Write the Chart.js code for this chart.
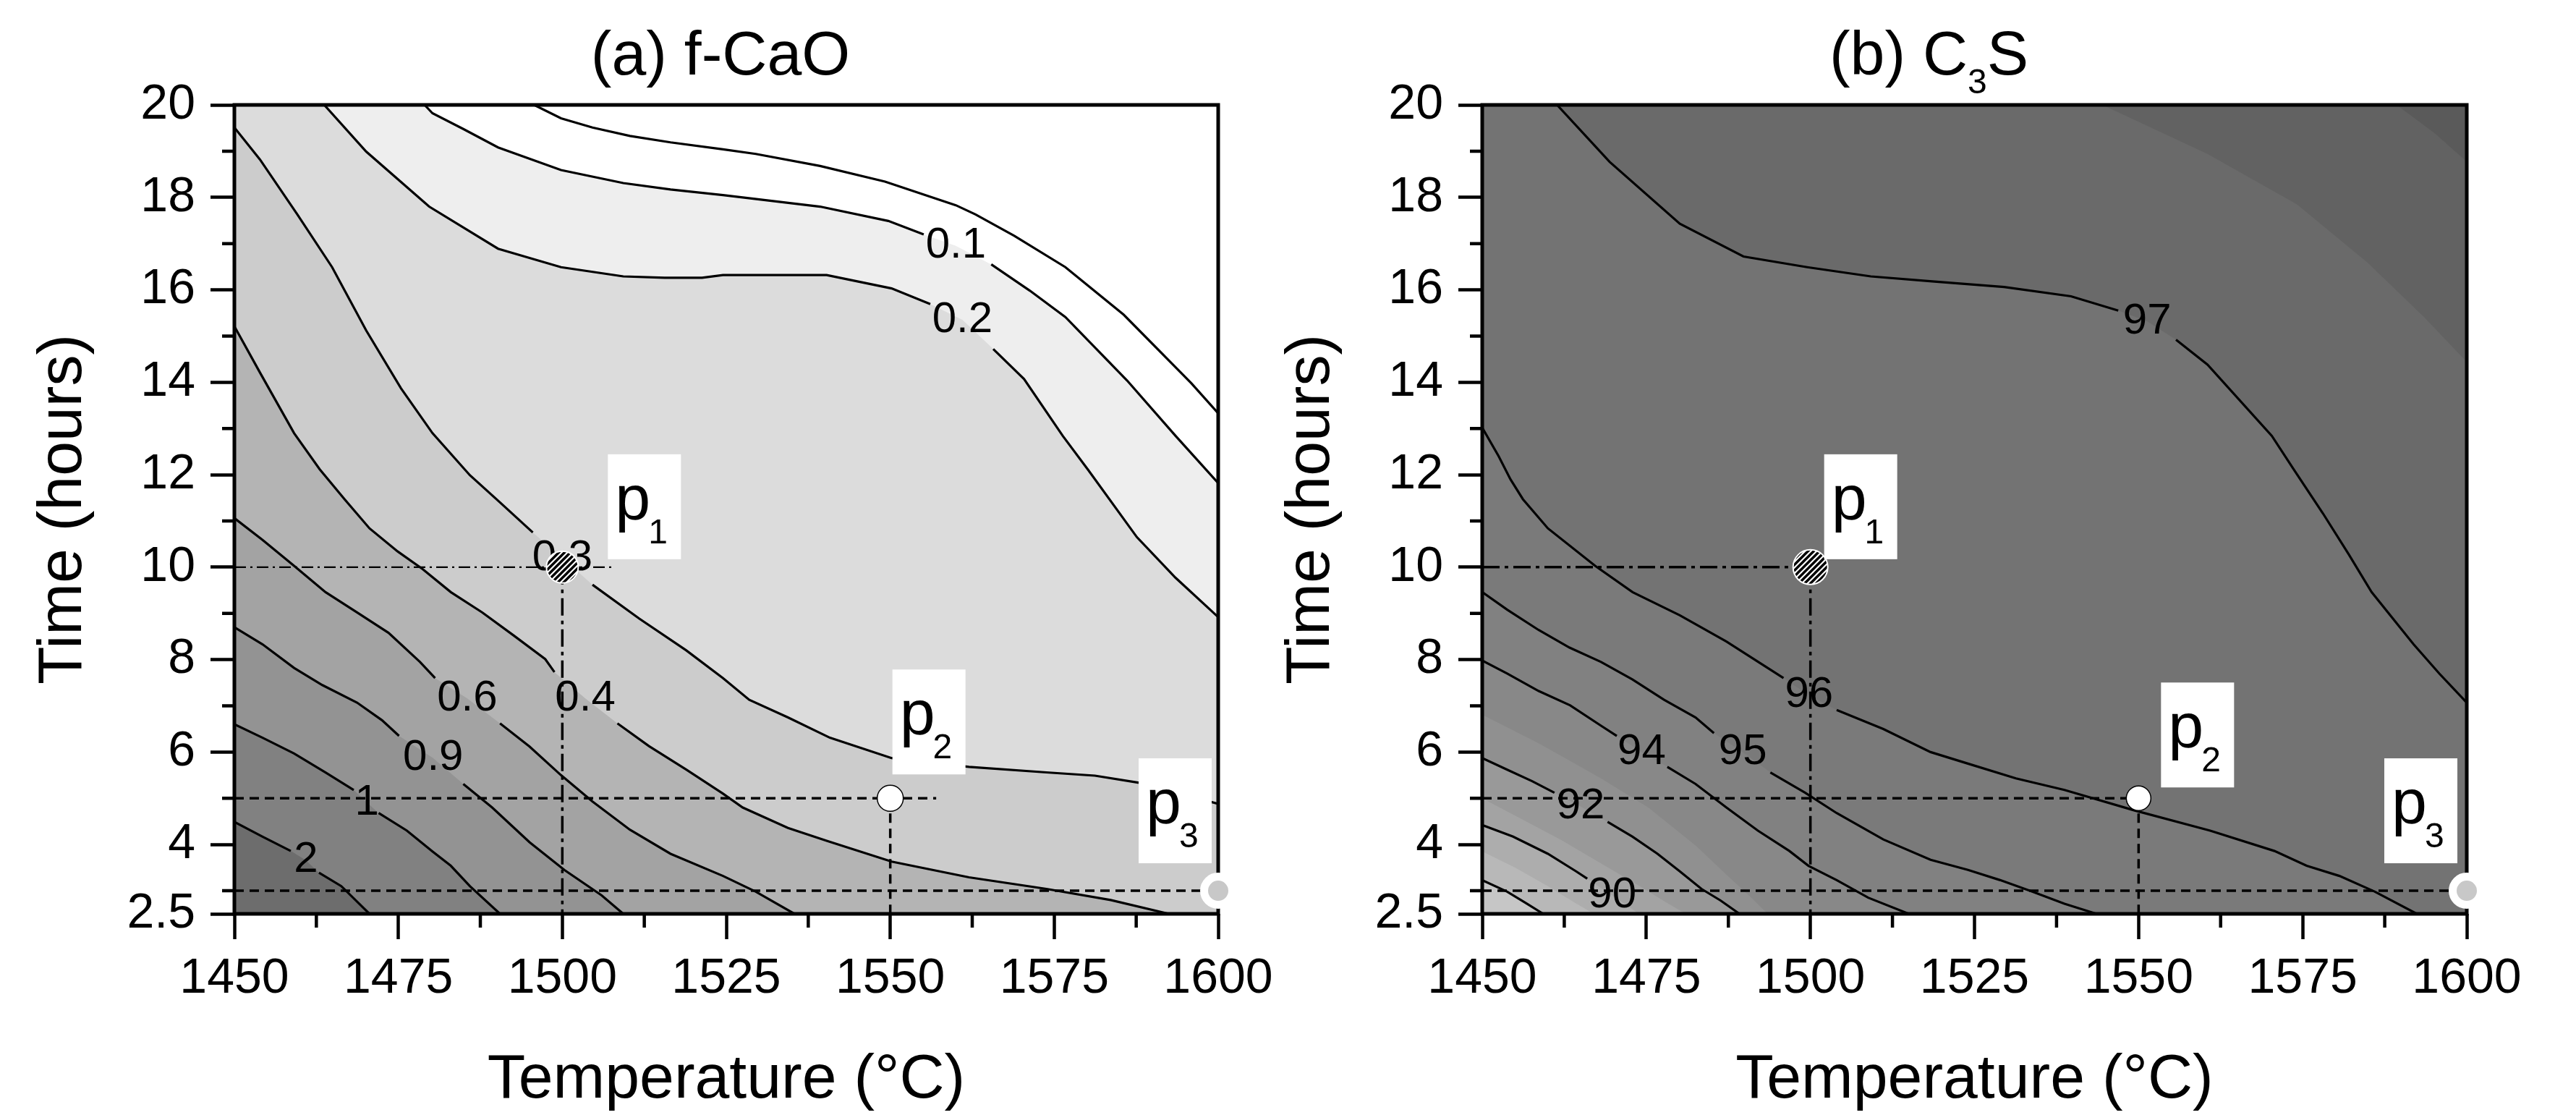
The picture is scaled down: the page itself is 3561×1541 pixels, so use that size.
<!DOCTYPE html>
<html>
<head>
<meta charset="utf-8">
<script src="https://cdn.jsdelivr.net/npm/chart.js@4.4.1/dist/chart.umd.min.js"></script>
<style>
  html, body { margin: 0; padding: 0; background: #fff; }
  #wrap { position: relative; width: 3561px; height: 1541px; overflow: hidden; }
  .panel { position: absolute; top: 0; }
  #panelA { left: 0; }
  #panelB { left: 1725px; }
</style>
</head>
<body>
<div id="wrap">
  <div class="panel" id="panelA"><canvas id="chartA" width="1780" height="1541"></canvas></div>
  <div class="panel" id="panelB"><canvas id="chartB" width="1836" height="1541"></canvas></div>
</div>
<script>
// axes
const tempTicks = [1450, 1475, 1500, 1525, 1550, 1575, 1600];
const tempMinor = [1462.5, 1487.5, 1512.5, 1537.5, 1562.5, 1587.5];
const timeTicks = [2.5, 4, 6, 8, 10, 12, 14, 16, 18, 20];
const timeMinor = [3, 5, 7, 9, 11, 13, 15, 17, 19];

// marked points p1..p3
const pointNames = ['1', '2', '3'];
const pointTemp = [1500, 1550, 1600];
const pointTime = [10, 5, 3];
// where the horizontal guide lines stop
const guideEndCaO = [1508, 1557, 1600];
const guideEndC3S = [1500, 1549, 1600];

// (a) f-CaO contour lines, [temperature, time]
const caoLineTop = [[1495.7, 20], [1499.8, 19.71], [1504.6, 19.51], [1510.3, 19.33], [1516.5, 19.19], [1524.5, 19.04], [1529.5, 18.94], [1539.3, 18.68], [1549.2, 18.34], [1560.0, 17.83], [1563.0, 17.63], [1568.9, 17.17], [1576.7, 16.49], [1585.6, 15.46], [1595.9, 13.98], [1600, 13.33]];
const caoLine01 = [[1479.0, 20], [1480.2, 19.82], [1484.9, 19.48], [1490.2, 19.08], [1499.8, 18.59], [1509.3, 18.31], [1516.5, 18.17], [1524.5, 18.05], [1539.3, 17.80], [1549.7, 17.49], [1555.1, 17.20], [1560.0, 16.95], [1565.4, 16.55], [1571.3, 15.98], [1576.7, 15.41], [1586.1, 14.04], [1593.5, 12.84], [1600, 11.82]];
const caoLine02 = [[1463.7, 20], [1470.1, 18.99], [1479.7, 17.80], [1490.2, 16.89], [1499.8, 16.49], [1509.3, 16.29], [1515.6, 16.26], [1521.3, 16.26], [1524.5, 16.32], [1540.3, 16.32], [1550.2, 16.03], [1556.1, 15.69], [1561.0, 15.35], [1565.7, 14.72], [1570.4, 14.07], [1576.3, 12.84], [1580.2, 12.10], [1587.6, 10.65], [1593.5, 9.77], [1600, 8.92]];
const caoLine03 = [[1450, 19.51], [1453.9, 18.82], [1459.6, 17.63], [1464.9, 16.49], [1470.1, 15.12], [1475.4, 13.87], [1480.2, 12.90], [1485.9, 11.99], [1490.5, 11.40], [1495.5, 10.75], [1500.0, 10.2], [1504.6, 9.62], [1511.7, 8.89], [1518.9, 8.20], [1524.5, 7.60], [1528.5, 7.13], [1534.4, 6.75], [1540.8, 6.31], [1550.2, 5.87], [1562.0, 5.68], [1573.8, 5.56], [1581.2, 5.49], [1587.8, 5.34], [1600, 4.88]];
const caoLine04 = [[1450, 15.21], [1453.9, 14.21], [1459.1, 12.90], [1463.0, 12.12], [1466.8, 11.47], [1470.6, 10.84], [1474.9, 10.34], [1478.7, 9.96], [1483.0, 9.46], [1487.8, 9.02], [1492.6, 8.52], [1497.4, 8.01], [1498.8, 7.73], [1503.5, 7.16], [1508.4, 6.62], [1513.2, 6.13], [1518.9, 5.62], [1524.5, 5.10], [1527.5, 4.80], [1534.4, 4.36], [1540.3, 4.08], [1550.2, 3.63], [1562.0, 3.29], [1573.8, 3.04], [1583.6, 2.80], [1592.5, 2.5]];
const caoLine06 = [[1450, 11.06], [1454.3, 10.59], [1459.1, 10.03], [1463.9, 9.46], [1468.7, 9.02], [1473.5, 8.58], [1478.3, 7.95], [1480.6, 7.60], [1485.5, 7.16], [1490.5, 6.62], [1495.0, 6.12], [1499.8, 5.50], [1504.6, 4.93], [1510.3, 4.32], [1516.5, 3.80], [1524.5, 3.32], [1529.5, 2.98], [1535.4, 2.5]];
const caoLine09 = [[1450, 8.70], [1454.3, 8.33], [1459.1, 7.82], [1463.4, 7.45], [1468.7, 7.07], [1472.5, 6.69], [1475.1, 6.35], [1480.3, 5.87], [1484.9, 5.31], [1489.3, 4.80], [1495.0, 4.05], [1500.3, 3.45], [1506.0, 2.90], [1509.3, 2.5]];
const caoLine1 = [[1450, 6.60], [1454.3, 6.31], [1459.1, 5.97], [1463.9, 5.56], [1468.2, 5.18], [1470.2, 4.91], [1472.0, 4.68], [1476.3, 4.30], [1480.2, 3.85], [1483.0, 3.54], [1485.9, 3.10], [1490.5, 2.5]];
const caoLine2 = [[1450, 4.49], [1454.3, 4.17], [1458.6, 3.86], [1460.9, 3.66], [1462.9, 3.39], [1466.3, 3.10], [1470.6, 2.5]];

// (b) C3S contour lines
const c3sLine97 = [[1461.4, 20], [1469.4, 18.77], [1480.1, 17.43], [1489.8, 16.72], [1499.5, 16.49], [1509.2, 16.29], [1518.9, 16.18], [1529.5, 16.06], [1539.7, 15.86], [1546.9, 15.55], [1551.3, 15.32], [1555.7, 14.92], [1560.5, 14.38], [1570.3, 12.84], [1573.7, 12.10], [1578.1, 11.16], [1582.0, 10.28], [1585.5, 9.46], [1591.9, 8.33], [1595.8, 7.70], [1600, 7.07]];
const c3sLine96 = [[1450, 13.02], [1452.5, 12.40], [1454.3, 11.90], [1456.2, 11.47], [1460.0, 10.84], [1467.2, 10.03], [1472.9, 9.46], [1480.1, 8.96], [1487.2, 8.39], [1495.9, 7.60], [1499.8, 7.23], [1504.0, 6.91], [1511.1, 6.50], [1518.3, 6.00], [1524.0, 5.75], [1531.3, 5.43], [1538.7, 5.18], [1549.3, 4.74], [1560.9, 4.30], [1570.7, 3.86], [1575.6, 3.54], [1580.6, 3.32], [1586.0, 2.98], [1592.4, 2.5]];
const c3sLine95 = [[1450, 9.46], [1453.8, 9.08], [1458.6, 8.64], [1463.3, 8.26], [1468.1, 7.95], [1472.9, 7.57], [1477.7, 7.13], [1482.5, 6.75], [1485.3, 6.41], [1489.7, 6.00], [1493.9, 5.56], [1499.2, 5.12], [1504.0, 4.68], [1511.1, 4.11], [1518.3, 3.67], [1524.0, 3.45], [1528.9, 3.23], [1533.8, 2.98], [1538.7, 2.72], [1543.6, 2.5]];
const c3sLine94 = [[1450, 7.98], [1453.8, 7.70], [1458.6, 7.32], [1463.4, 7.01], [1468.1, 6.57], [1470.5, 6.35], [1474.3, 6.00], [1478.2, 5.68], [1482.5, 5.31], [1487.2, 4.80], [1492.0, 4.30], [1496.8, 3.86], [1499.7, 3.54], [1504.0, 3.23], [1508.8, 2.85], [1515.0, 2.5]];
const c3sLine92 = [[1450, 5.87], [1453.8, 5.62], [1457.6, 5.37], [1461.0, 5.12], [1465.0, 4.82], [1469.1, 4.49], [1472.9, 4.17], [1476.7, 3.80], [1480.1, 3.42], [1483.4, 3.04], [1486.3, 2.79], [1489.2, 2.5]];
const c3sLine90 = [[1450, 4.42], [1454.7, 4.17], [1460.0, 3.80], [1464.3, 3.42], [1466.0, 3.26], [1469.8, 2.90], [1473.9, 2.5]];
const c3sLine89 = [[1450, 3.23], [1453.8, 2.98], [1456.7, 2.73], [1459.3, 2.5]];
// colour band edges without a drawn line
const c3sEdgeTop1 = [[1544.5, 20], [1560.5, 18.94], [1574.1, 17.85], [1584.8, 16.60], [1593.5, 15.41], [1600, 14.44]];
const c3sEdgeTop2 = [[1589.3, 20], [1595.1, 19.39], [1600, 18.77]];
const c3sEdge93 = [[1450, 6.81], [1458.6, 6.19], [1468.1, 5.43], [1475.3, 4.80], [1482.5, 3.98], [1487.2, 3.35], [1491.0, 2.85], [1493.5, 2.5]];
const c3sEdge91 = [[1450, 5.0], [1456, 4.55], [1462, 4.1], [1468, 3.6], [1474, 3.1], [1478, 2.75], [1481, 2.5]];
const c3sEdge895 = [[1450, 3.85], [1455, 3.5], [1460, 3.1], [1464, 2.75], [1467, 2.5]];

const FONT = "'Liberation Sans', Arial, Helvetica, sans-serif";

// painting order: each entry fills towards the bottom ('start') or the top ('end')
const specCaO = {
  bg: '#dcdcdc',
  contours: [
    { pts: caoLine03, fill: 'start', color: '#cccccc', label: '0.3', at: 10 },
    { pts: caoLine04, fill: 'start', color: '#b4b4b4', label: '0.4', at: 13 },
    { pts: caoLine06, fill: 'start', color: '#a3a3a3', label: '0.6', at: 8 },
    { pts: caoLine09, fill: 'start', color: '#939393', label: '0.9', at: 7 },
    { pts: caoLine1, fill: 'start', color: '#818181', label: '1', at: 5 },
    { pts: caoLine2, fill: 'start', color: '#6d6d6d', label: '2', at: 3 },
    { pts: caoLine02, fill: 'end', color: '#eeeeee', label: '0.2', at: 12 },
    { pts: caoLine01, fill: 'end', color: '#ffffff', label: '0.1', at: 11 },
    { pts: caoLineTop, fill: 'end', color: '#ffffff' }
  ],
  guideEnd: guideEndCaO,
  dashDot: { dash: [16, 6, 3, 6], width: 2.2 },
  boxes: [[63, -156], [3, -178], [-110, -183]],
  radius: [22, 18, 19.5],
  title: [{ text: '(a) f-CaO', size: 86, dy: 0 }],
  titleShift: -8,
  padRight: 96
};

const specC3S = {
  bg: '#737373',
  contours: [
    { pts: c3sLine96, fill: 'start', color: '#7a7a7a', label: '96', at: 10 },
    { pts: c3sLine95, fill: 'start', color: '#818181', label: '95', at: 9 },
    { pts: c3sLine94, fill: 'start', color: '#888888', label: '94', at: 6 },
    { pts: c3sEdge93, fill: 'start', color: '#909090', line: false },
    { pts: c3sLine92, fill: 'start', color: '#999999', label: '92', at: 4 },
    { pts: c3sEdge91, fill: 'start', color: '#a3a3a3', line: false },
    { pts: c3sLine90, fill: 'start', color: '#adadad', label: '90', at: 5 },
    { pts: c3sEdge895, fill: 'start', color: '#b8b8b8', line: false },
    { pts: c3sLine89, fill: 'start', color: '#c6c6c6' },
    { pts: c3sLine97, fill: 'end', color: '#6a6a6a', label: '97', at: 10 },
    { pts: c3sEdgeTop1, fill: 'end', color: '#626262', line: false },
    { pts: c3sEdgeTop2, fill: 'end', color: '#5a5a5a', line: false }
  ],
  guideEnd: guideEndC3S,
  dashDot: { dash: [24, 7, 5, 7], width: 3.5 },
  boxes: [[19, -156], [31, -160], [-114, -183]],
  radius: [24, 17, 19.5],
  title: [{ text: '(b) C', size: 86, dy: 0 }, { text: '3', size: 48, dy: 26 }, { text: 'S', size: 86, dy: 0 }],
  titleShift: -63,
  padRight: 151
};

function hatchPattern() {
  const c = document.createElement('canvas');
  c.width = 8; c.height = 8;
  const g = c.getContext('2d');
  g.fillStyle = '#fff';
  g.fillRect(0, 0, 8, 8);
  g.strokeStyle = '#000';
  g.lineWidth = 3.4;
  g.beginPath();
  g.moveTo(-2, 10); g.lineTo(10, -2);
  g.moveTo(-6, 6); g.lineTo(6, -6);
  g.moveTo(2, 14); g.lineTo(14, 2);
  g.stroke();
  return g.createPattern(c, 'repeat');
}

function toXY(pts) {
  return pts.map(p => ({ x: p[0], y: p[1] }));
}

function buildChart(canvasId, spec) {
  const xMin = tempTicks[0];
  const yMin = timeTicks[0];
  const datasets = [];

  // filled bands first (no outline, so no seams), then the contour lines on top
  spec.contours.forEach((c, i) => {
    datasets.push({
      data: toXY(c.pts),
      fill: c.fill,
      backgroundColor: c.color,
      borderWidth: 0,
      borderColor: 'rgba(0,0,0,0)',
      pointRadius: 0,
      tension: 0,
      order: 1000 - i
    });
  });
  spec.contours.forEach((c, i) => {
    if (c.line === false) return;
    const at = c.at === undefined ? -1 : c.at;
    datasets.push({
      data: toXY(c.pts),
      fill: false,
      borderColor: '#000',
      borderWidth: 3.2,
      segment: {
        borderColor: s => (s.p0DataIndex === at || s.p1DataIndex === at) ? 'rgba(0,0,0,0)' : '#000'
      },
      pointRadius: 0,
      tension: 0,
      order: 500 - i
    });
  });

  // guide lines from the axes to p1, p2, p3
  const g = spec.guideEnd;
  const guides = [
    { pts: [[xMin, pointTime[0]], [g[0], pointTime[0]]], dash: spec.dashDot.dash, w: spec.dashDot.width },
    { pts: [[pointTemp[0], pointTime[0]], [pointTemp[0], yMin]], dash: [24, 7, 5, 7], w: 3.5 },
    { pts: [[xMin, pointTime[1]], [g[1], pointTime[1]]], dash: [13, 8], w: 3.5 },
    { pts: [[pointTemp[1], pointTime[1]], [pointTemp[1], yMin]], dash: [13, 8], w: 3.5 },
    { pts: [[xMin, pointTime[2]], [g[2], pointTime[2]]], dash: [13, 8], w: 3.5 }
  ];
  guides.forEach(gd => {
    datasets.push({
      data: toXY(gd.pts),
      fill: false,
      borderColor: '#000',
      borderWidth: gd.w,
      borderDash: gd.dash,
      pointRadius: 0,
      order: 10
    });
  });

  datasets.push({
    role: 'markers',
    data: pointTemp.map((x, i) => ({ x: x, y: pointTime[i] })),
    showLine: false,
    fill: false,
    pointRadius: spec.radius,
    pointBackgroundColor: [hatchPattern(), '#ffffff', '#c8c8c8'],
    pointBorderColor: ['#ffffff', '#000000', '#ffffff'],
    pointBorderWidth: [2, 1.5, 11],
    clip: false,
    order: 0
  });

  const decor = {
    id: 'decor',
    beforeDatasetsDraw(chart) {
      const { ctx, chartArea: a } = chart;
      ctx.save();
      ctx.fillStyle = spec.bg;
      ctx.fillRect(a.left, a.top, a.right - a.left, a.bottom - a.top);
      ctx.restore();
    },
    beforeDatasetDraw(chart, args) {
      if (chart.data.datasets[args.index].role !== 'markers') return;
      const { ctx, chartArea: a } = chart;
      const xs = chart.scales.x, ys = chart.scales.y;
      ctx.save();
      ctx.strokeStyle = '#000';
      ctx.lineWidth = 5;
      ctx.strokeRect(a.left, a.top, a.right - a.left, a.bottom - a.top);
      // contour level labels
      ctx.fillStyle = '#000';
      ctx.font = '60px ' + FONT;
      ctx.textAlign = 'center';
      ctx.textBaseline = 'middle';
      spec.contours.forEach(c => {
        if (!c.label) return;
        const p = c.pts[c.at];
        ctx.fillText(c.label, xs.getPixelForValue(p[0]), ys.getPixelForValue(p[1]));
      });
      ctx.restore();
    },
    afterDatasetsDraw(chart) {
      const { ctx } = chart;
      const xs = chart.scales.x, ys = chart.scales.y;
      ctx.save();
      pointTemp.forEach((T, i) => {
        const bx = xs.getPixelForValue(T) + spec.boxes[i][0];
        const by = ys.getPixelForValue(pointTime[i]) + spec.boxes[i][1];
        ctx.fillStyle = '#fff';
        ctx.fillRect(bx, by, 101, 145);
        ctx.fillStyle = '#000';
        ctx.textAlign = 'left';
        ctx.textBaseline = 'alphabetic';
        ctx.font = '88px ' + FONT;
        ctx.fillText('p', bx + 10, by + 90);
        const w = ctx.measureText('p').width;
        ctx.font = '48px ' + FONT;
        ctx.fillText(pointNames[i], bx + 10 + w - 3, by + 123);
      });
      ctx.restore();
    },
    afterDraw(chart) {
      const { ctx, chartArea: a } = chart;
      const xs = chart.scales.x, ys = chart.scales.y;
      ctx.save();
      // minor ticks
      ctx.strokeStyle = '#000';
      ctx.lineWidth = 4.5;
      ctx.beginPath();
      tempMinor.forEach(v => {
        const x = xs.getPixelForValue(v);
        ctx.moveTo(x, a.bottom);
        ctx.lineTo(x, a.bottom + 19);
      });
      timeMinor.forEach(v => {
        const y = ys.getPixelForValue(v);
        ctx.moveTo(a.left - 17, y);
        ctx.lineTo(a.left, y);
      });
      ctx.stroke();
      // panel title
      ctx.fillStyle = '#000';
      ctx.textAlign = 'left';
      ctx.textBaseline = 'alphabetic';
      let total = 0;
      spec.title.forEach(s => {
        ctx.font = s.size + 'px ' + FONT;
        total += ctx.measureText(s.text).width;
      });
      let x = (a.left + a.right) / 2 + spec.titleShift - total / 2;
      spec.title.forEach(s => {
        ctx.font = s.size + 'px ' + FONT;
        ctx.fillText(s.text, x, 103 + s.dy);
        x += ctx.measureText(s.text).width;
      });
      ctx.restore();
    }
  };

  const tickFont = { family: FONT, size: 68 };
  const titleFont = { family: FONT, size: 86, lineHeight: 1 };

  return new Chart(document.getElementById(canvasId), {
    type: 'line',
    data: { datasets: datasets },
    options: {
      responsive: false,
      animation: false,
      events: [],
      layout: { padding: { left: 0, top: 145, right: spec.padRight, bottom: 0 } },
      plugins: {
        legend: { display: false },
        tooltip: { enabled: false },
        title: { display: false }
      },
      scales: {
        x: {
          type: 'linear',
          min: 1450,
          max: 1600,
          afterBuildTicks: s => { s.ticks = tempTicks.map(v => ({ value: v })); },
          afterFit: s => { s.height = 278; },
          grid: { display: true, drawOnChartArea: false, drawTicks: true, tickLength: 35, tickWidth: 4.5, tickColor: '#000' },
          border: { display: false },
          ticks: { font: tickFont, color: '#000', padding: 14, maxRotation: 0, autoSkip: false, callback: v => String(v) },
          title: { display: true, text: 'Temperature (°C)', font: titleFont, color: '#000', padding: { top: 0, bottom: 5 } }
        },
        y: {
          type: 'linear',
          min: 2.5,
          max: 20,
          afterBuildTicks: s => { s.ticks = timeTicks.map(v => ({ value: v })); },
          afterFit: s => { s.width = 324; },
          grid: { display: true, drawOnChartArea: false, drawTicks: true, tickLength: 33, tickWidth: 4.5, tickColor: '#000' },
          border: { display: false },
          ticks: { font: tickFont, color: '#000', padding: 21, autoSkip: false, callback: v => String(v) },
          title: { display: true, text: 'Time (hours)', font: titleFont, color: '#000', padding: { top: 45, bottom: 0 } }
        }
      }
    },
    plugins: [decor]
  });
}

buildChart('chartA', specCaO);
buildChart('chartB', specC3S);
</script>
</body>
</html>
